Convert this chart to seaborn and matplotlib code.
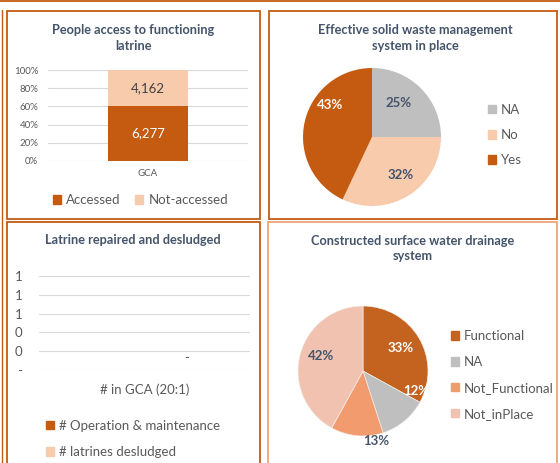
import matplotlib
matplotlib.use("Agg")
import matplotlib.pyplot as plt
import seaborn as sns
import pandas as pd
from matplotlib.patches import Rectangle, Patch
from matplotlib.lines import Line2D
from matplotlib.ticker import PercentFormatter

# --- data ---
latrine_area = ["GCA"]
latrine_accessed = [6277]
latrine_not_accessed = [4162]

waste_labels = ["NA", "No", "Yes"]
waste_shares = [25, 32, 43]

repair_area = ["# in GCA (20:1)"]
repair_series = ["# Operation & maintenance", "# latrines desludged"]
repair_values = [0, 0]
repair_ticks = [0, 0.2, 0.4, 0.6, 0.8, 1.0]
repair_tick_labels = ["-", "0", "0", "1", "1", "1"]

drain_labels = ["Functional", "NA", "Not_Functional", "Not_inPlace"]
drain_shares = [33, 12, 13, 42]

# --- style ---
DARK = "#C55A11"
PEACH = "#F8CBAD"
GRAY = "#BFBFBF"
SALMON = "#F29B6E"
PINK = "#F1C2AF"
FUNC = "#C4621F"
TITLE = "#44546A"
TXT = "#595959"
GRID = "#D9D9D9"
BORDER = "#C55A11"

W, H = 560, 463


def box(x0, y0, x1, y1):
    # pixel box -> figure fraction
    return [x0 / W, 1 - y1 / H, (x1 - x0) / W, (y1 - y0) / H]


def fx(x):
    return x / W


def fy(y):
    return 1 - y / H


sns.set_theme(style="white")
plt.rcParams["font.family"] = ["Lato", "DejaVu Sans"]

fig = plt.figure(figsize=(5.6, 4.63), dpi=100)

# panel frames
frames = [(7, 11, 260, 219, BORDER), (269, 11, 557, 219, BORDER),
          (7, 222, 260, 480, BORDER), (268, 222, 557, 480, "#EBA57C")]
for x0, y0, x1, y1, c in frames:
    fig.add_artist(Rectangle((fx(x0), fy(y1)), (x1 - x0) / W, (y1 - y0) / H,
                             transform=fig.transFigure, fill=False, ec=c, lw=1.3))
fig.add_artist(Line2D([0, 1], [fy(1), fy(1)], transform=fig.transFigure, color=BORDER, lw=1.3))
fig.add_artist(Line2D([fx(2), fx(2)], [fy(10), 0], transform=fig.transFigure, color=BORDER, lw=1.0))

title_kw = dict(ha="center", va="center", fontsize=9.2, fontweight="bold", color=TITLE, linespacing=1.3)
fig.text(fx(133), fy(38), "People access to functioning\nlatrine", **title_kw)
fig.text(fx(415), fy(38), "Effective solid waste management\nsystem in place", **title_kw)
fig.text(fx(133), fy(240), "Latrine repaired and desludged", **title_kw)
fig.text(fx(413), fy(249), "Constructed surface water drainage\nsystem", **title_kw)

# 1. People access to functioning latrine (100% stacked)
df1 = pd.DataFrame({"area": latrine_area, "accessed": latrine_accessed,
                    "not_accessed": latrine_not_accessed})
df1["total"] = df1["accessed"] + df1["not_accessed"]
df1["acc_pct"] = df1["accessed"] / df1["total"] * 100
df1["all_pct"] = 100.0

ax1 = fig.add_axes(box(48, 70, 248, 161))
sns.barplot(data=df1, x="area", y="all_pct", color=PEACH, width=0.4, saturation=1,
            linewidth=0, ax=ax1)
sns.barplot(data=df1, x="area", y="acc_pct", color=DARK, width=0.4, saturation=1,
            linewidth=0, ax=ax1)
ax1.set_ylim(0, 100)
ax1.set_yticks([0, 20, 40, 60, 80, 100])
ax1.yaxis.set_major_formatter(PercentFormatter(decimals=0))
ax1.set_xlabel("")
ax1.set_ylabel("")
ax1.grid(axis="y", color=GRID, lw=0.8)
ax1.set_axisbelow(True)
sns.despine(ax=ax1, left=True, bottom=True)
ax1.tick_params(axis="y", labelsize=7, colors=TXT, length=0, pad=7)
ax1.tick_params(axis="x", labelsize=7, colors=TXT, length=0, pad=6)
for i, row in df1.iterrows():
    ax1.text(i, row["acc_pct"] / 2, f"{row['accessed']:,}", ha="center", va="center",
             fontsize=9.5, color="white")
    ax1.text(i, row["acc_pct"] + (100 - row["acc_pct"]) / 2, f"{row['not_accessed']:,}",
             ha="center", va="center", fontsize=9.5, color="#404040")

leg_kw = dict(frameon=False, fontsize=9.5, labelcolor=TXT, handlelength=0.6, handleheight=0.6,
              handletextpad=0.4, borderpad=0, borderaxespad=0, loc="center left")
fig.legend(handles=[Patch(color=DARK, label="Accessed"), Patch(color=PEACH, label="Not-accessed")],
           ncol=2, columnspacing=1.1, bbox_to_anchor=(fx(53), fy(200)), **leg_kw)

# 2. Effective solid waste management (pie)
ax2 = fig.add_axes(box(303, 68, 441, 206))
ax2.pie(waste_shares, colors=[GRAY, PEACH, DARK], startangle=90, counterclock=False,
        wedgeprops=dict(lw=0))
ax2.set_xlim(-1, 1)
ax2.set_ylim(-1, 1)
waste_label_pos = [(0.38, 0.49), (0.42, -0.55), (-0.61, 0.46)]
waste_label_col = [TITLE, TITLE, "white"]
for v, (px, py), c in zip(waste_shares, waste_label_pos, waste_label_col):
    ax2.text(px, py, f"{v}%", ha="center", va="center", fontsize=9.5, fontweight="bold", color=c)
fig.legend(handles=[Patch(color=c, label=l) for c, l in zip([GRAY, PEACH, DARK], waste_labels)],
           labelspacing=1.0, bbox_to_anchor=(fx(488), fy(135)), **leg_kw)

# 3. Latrine repaired and desludged (empty clustered bar)
df3 = pd.DataFrame({"area": repair_area * len(repair_series), "series": repair_series,
                    "value": repair_values})
ax3 = fig.add_axes(box(39, 276, 250, 370))
sns.barplot(data=df3, x="area", y="value", hue="series", palette=[DARK, PEACH],
            saturation=1, ax=ax3, legend=False)
ax3.set_ylim(0, 1)
ax3.set_yticks(repair_ticks)
ax3.set_yticklabels(repair_tick_labels)
ax3.set_xlabel("")
ax3.set_ylabel("")
ax3.grid(axis="y", color=GRID, lw=0.8)
ax3.set_axisbelow(True)
sns.despine(ax=ax3, left=True, bottom=True)
ax3.tick_params(axis="y", labelsize=9.5, colors=TXT, length=0, pad=12)
ax3.tick_params(axis="x", labelsize=9.5, colors=TXT, length=0, pad=10)
ax3.bar_label(ax3.containers[1], labels=["-"], padding=4, fontsize=9.5, color=TXT)
fig.legend(handles=[Patch(color=c, label=l) for c, l in zip([DARK, PEACH], repair_series)],
           labelspacing=1.1, bbox_to_anchor=(fx(46), fy(439)), **leg_kw)

# 4. Constructed surface water drainage (pie)
ax4 = fig.add_axes(box(298, 306, 428, 436))
drain_colors = [FUNC, GRAY, SALMON, PINK]
ax4.pie(drain_shares, colors=drain_colors, startangle=90, counterclock=False,
        wedgeprops=dict(lw=0.5, edgecolor="#F3EDEA"))
ax4.set_xlim(-1, 1)
ax4.set_ylim(-1, 1)
drain_label_pos = [(0.58, 0.35), (0.82, -0.31), (0.2, -1.08), (-0.65, 0.23)]
drain_label_col = ["white", "white", TITLE, TITLE]
for v, (px, py), c in zip(drain_shares, drain_label_pos, drain_label_col):
    ax4.text(px, py, f"{v}%", ha="center", va="center", fontsize=9.5, fontweight="bold", color=c)
fig.legend(handles=[Patch(color=c, label=l) for c, l in zip(drain_colors, drain_labels)],
           labelspacing=1.05, bbox_to_anchor=(fx(451), fy(375)), **leg_kw)

fig.savefig("out.png", dpi=100)
